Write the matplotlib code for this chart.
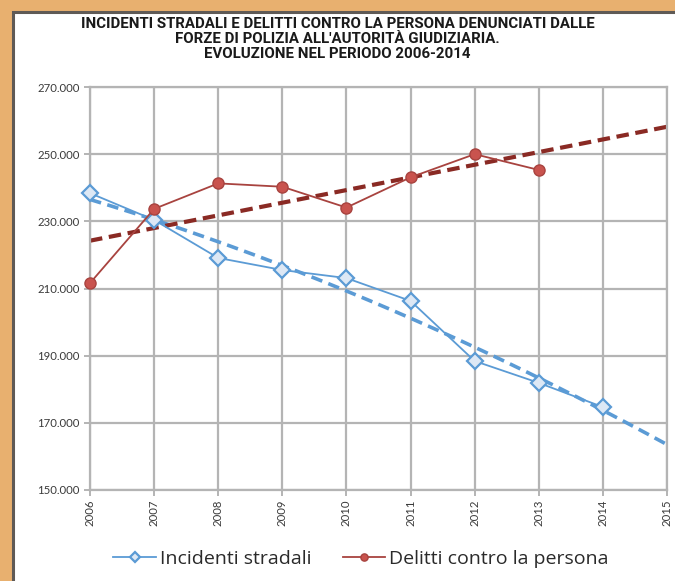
import numpy as np
import matplotlib
matplotlib.use("Agg")
import matplotlib.pyplot as plt
from matplotlib.patches import Rectangle
from matplotlib.ticker import FuncFormatter, FixedLocator, MultipleLocator

# Data
anni = [2006, 2007, 2008, 2009, 2010, 2011, 2012, 2013, 2014]
incidenti = [238400, 230400, 219100, 215500, 213100, 206300, 188400, 181900, 174700]
anni_delitti = [2006, 2007, 2008, 2009, 2010, 2011, 2012, 2013]
delitti = [211600, 233700, 241300, 240300, 234100, 243100, 250000, 245300]
y_ticks = [150000, 170000, 190000, 210000, 230000, 250000, 270000]
titolo = ("INCIDENTI STRADALI E DELITTI CONTRO LA PERSONA DENUNCIATI DALLE\n"
          "FORZE DI POLIZIA ALL'AUTORITÀ GIUDIZIARIA.\n"
          "EVOLUZIONE NEL PERIODO 2006-2014")

BLUE = "#5B9BD5"
BLUE_FILL = "#DDE8F5"
RED = "#A8433F"
RED_FILL = "#C9534E"
RED_TREND = "#8A2A24"
ORANGE = "#E8B06F"

fig = plt.figure(figsize=(6.75, 5.81), dpi=100)
fig.patch.set_facecolor(ORANGE)

# White panel with a dark frame on its left/top edges
panel = Rectangle((12.5 / 675, -0.05), 1.2, 1 - 11.5 / 581 + 0.05,
                  transform=fig.transFigure, facecolor="white",
                  edgecolor="#5f5a56", linewidth=2.2, zorder=-10)
fig.patches.append(panel)

fig.text(0.5, 1 - 16.5 / 581, titolo, ha="center", va="top", fontsize=10.8,
         fontweight="bold", family="Roboto", linespacing=1.12, color="#1a1a1a")

ax = fig.add_axes([90 / 675, 1 - 490 / 581, (667 - 90) / 675, (490 - 87) / 581])
ax.set_xlim(2006, 2015)
ax.set_ylim(y_ticks[0], y_ticks[-1])
ax.yaxis.set_major_locator(FixedLocator(y_ticks))
ax.xaxis.set_major_locator(MultipleLocator(1))
ax.yaxis.set_major_formatter(FuncFormatter(lambda v, p: f"{int(v):,}".replace(",", ".")))
ax.xaxis.set_major_formatter(FuncFormatter(lambda v, p: f"{int(v)}"))

ax.grid(True, color="#b4b4b4", linewidth=1.6)
ax.set_axisbelow(True)
for s in ax.spines.values():
    s.set_color("#b4b4b4")
    s.set_linewidth(1.6)
ax.tick_params(axis="both", colors="#b4b4b4", width=1.4, length=4,
               labelcolor="#3a3a3a", labelsize=8.2)
ax.tick_params(axis="x", labelrotation=90, pad=3)
for lab in ax.get_xticklabels() + ax.get_yticklabels():
    lab.set_family("Lato")

# Trend lines over the full span
xt = np.linspace(2006, 2015, 200)
cb = np.polyfit(np.array(anni) - 2006, incidenti, 2)
ax.plot(xt, np.polyval(cb, xt - 2006), color=BLUE, lw=2.6, ls=(0, (3.2, 1.8)),
        zorder=2)
cr = np.polyfit(np.array(anni_delitti) - 2006, delitti, 1)
ax.plot(xt, np.polyval(cr, xt - 2006), color=RED_TREND, lw=3.0, ls=(0, (3.0, 1.6)),
        zorder=2)

ax.plot(anni, incidenti, color=BLUE, lw=1.3, marker="D", ms=8.5,
        mfc=BLUE_FILL, mec=BLUE, mew=1.6, zorder=3, clip_on=False,
        label="Incidenti stradali")
ax.plot(anni_delitti, delitti, color=RED, lw=1.3, marker="o", ms=8,
        mfc=RED_FILL, mec=RED, mew=1.0, zorder=3, clip_on=False,
        label="Delitti contro la persona")

leg = fig.legend(*ax.get_legend_handles_labels(), loc="center",
                 bbox_to_anchor=(0.535, 1 - 559 / 581), ncol=2, frameon=False,
                 prop={"family": "Open Sans", "size": 14}, handlelength=2.2,
                 columnspacing=1.6, handletextpad=0.2, markerscale=0.65)
for t in leg.get_texts():
    t.set_color("#2a2a2a")

fig.savefig("out.png", dpi=100, facecolor=fig.get_facecolor())
